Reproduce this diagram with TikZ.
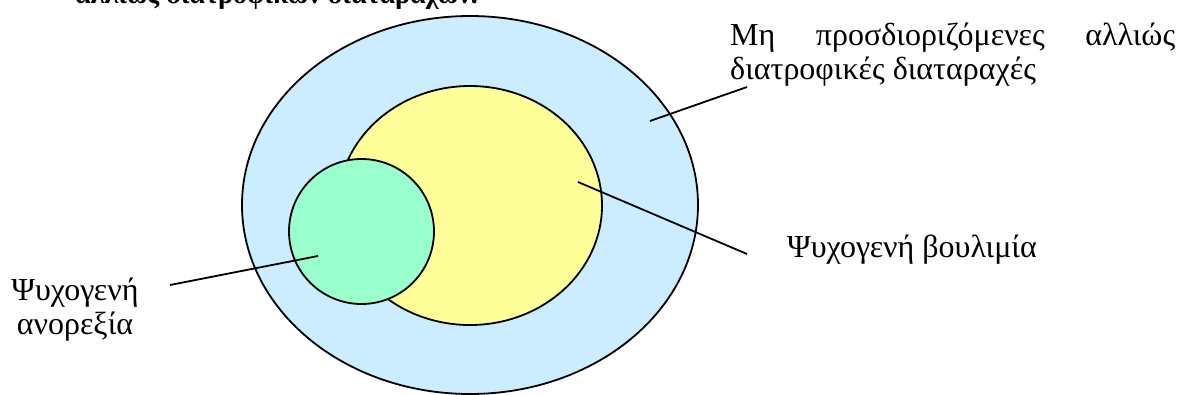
\documentclass[tikz,border=0pt]{standalone}
\usepackage{fontspec}
\setmainfont{Liberation Serif}
\usepackage{tikz}

\definecolor{outerblue}{HTML}{CCECFF}
\definecolor{bulyellow}{HTML}{FFFF99}
\definecolor{anogreen}{HTML}{99FFCC}

\begin{document}
\begin{tikzpicture}[x=1pt,y=-1pt,
    region/.style={draw=black,line width=1.8pt},
    leader/.style={black,line width=1.8pt},
    lbl/.style={inner sep=0pt,font=\fontsize{32}{34}\selectfont}]
    \useasboundingbox (0,0) rectangle (1179,394);
    \coordinate (Cout) at (470,205);
    \coordinate (Cbul) at (470,205.5);
    \coordinate (Cano) at (361.5,231.5);
    \draw[region,fill=outerblue] (Cout) ellipse [x radius=228pt,y radius=189pt];
    \draw[region,fill=bulyellow] (Cbul) ellipse [x radius=132pt,y radius=119.5pt];
    \draw[region,fill=anogreen] (Cano) ellipse [x radius=72.5pt,y radius=72.5pt];
    \node[lbl,anchor=base west,font=\bfseries\fontsize{28}{34}\selectfont] (titleLbl)
      at (75,3) {αλλιώς διατροφικών διαταραχών.};
    \node[lbl,anchor=base west,text width=445pt,align=justify] (nosLbl)
      at (730,45) {Μη προσδιοριζόμενες αλλιώς διατροφικές διαταραχές};
    \node[lbl,anchor=base west] (bulLbl) at (787,257) {Ψυχογενή βουλιμία};
    \node[lbl,anchor=base,text width=140pt,align=center] (anoLbl)
      at (75,300) {Ψυχογενή\\ανορεξία};
    \coordinate (nosIn) at (650,121);
    \coordinate (nosOut) at (747,87);
    \coordinate (bulIn) at (578,182);
    \coordinate (bulOut) at (747,254);
    \coordinate (anoIn) at (318,256);
    \coordinate (anoOut) at (170,285);
    \draw[leader] (nosIn) -- (nosOut);
    \draw[leader] (bulIn) -- (bulOut);
    \draw[leader] (anoIn) -- (anoOut);
\end{tikzpicture}
\end{document}
